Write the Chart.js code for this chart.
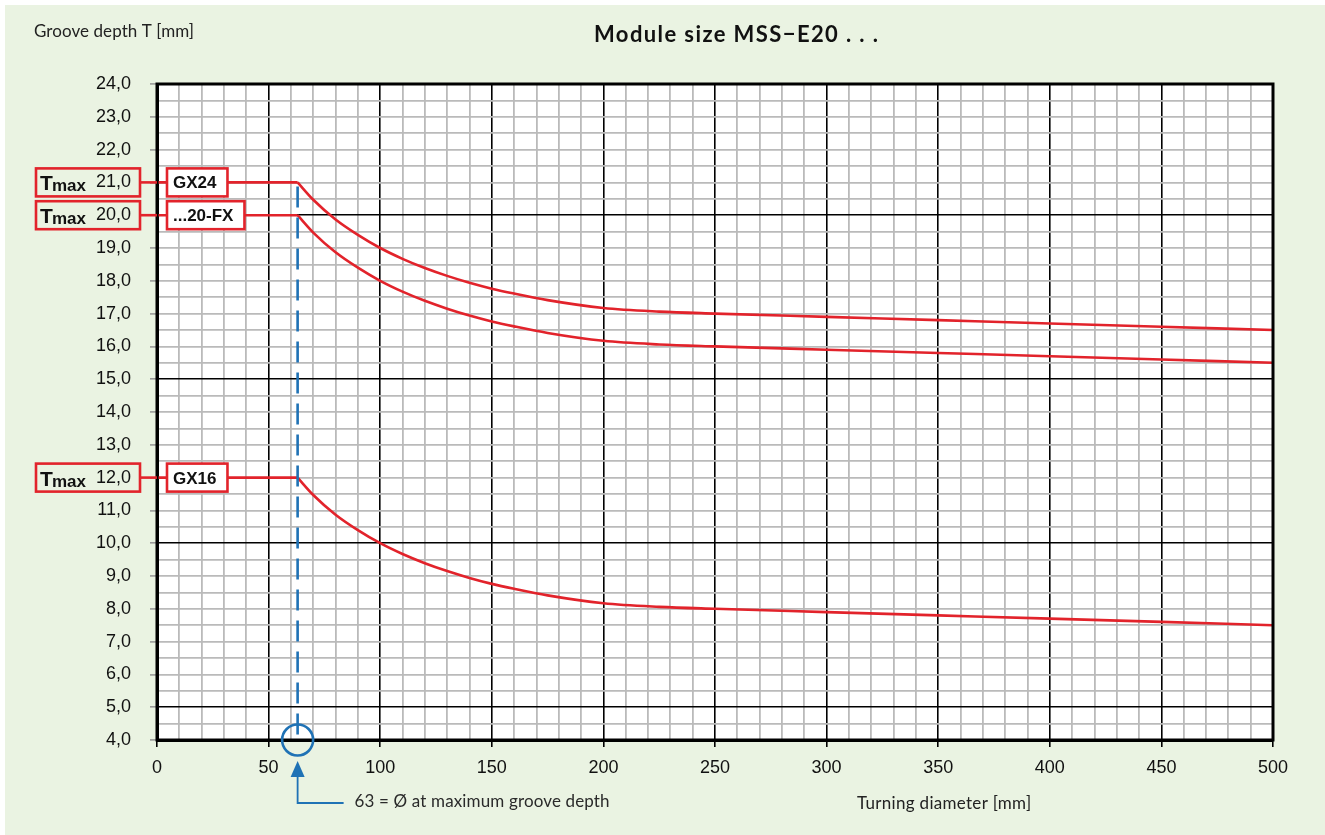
<!DOCTYPE html>
<html>
<head>
<meta charset="utf-8">
<script src="https://cdn.jsdelivr.net/npm/chart.js@4"></script>
<style>
  html, body { margin: 0; padding: 0; background: #ffffff; }
  #wrap { position: absolute; left: 0; top: 0; width: 1325px; height: 835px; }
</style>
</head>
<body>
<div id="wrap"><canvas id="grooveChart" width="1325" height="835"></canvas></div>
<script>
// Turning diameter [mm] for the curve points
const diameters = [63, 70, 80, 90, 100, 110, 120, 130, 140, 150, 160, 175, 200, 225, 250, 300, 350, 400, 450, 500];

// Groove depth T [mm] per insert
const gx24 = [21.0, 20.47, 19.87, 19.4, 19.0, 18.67, 18.39, 18.15, 17.94, 17.76, 17.61, 17.41, 17.17, 17.06, 17.0, 16.9, 16.8, 16.7, 16.6, 16.5];
const fx20 = [20.0, 19.47, 18.87, 18.4, 18.0, 17.67, 17.39, 17.15, 16.94, 16.76, 16.61, 16.41, 16.17, 16.06, 16.0, 15.9, 15.8, 15.7, 15.6, 15.5];
const gx16 = [12.0, 11.47, 10.87, 10.4, 10.0, 9.67, 9.39, 9.15, 8.94, 8.76, 8.61, 8.41, 8.17, 8.06, 8.0, 7.9, 7.8, 7.7, 7.6, 7.5];

// Tmax labels
const insertNames = ['GX24', '...20-FX', 'GX16'];
const tmaxValues = [21.0, 20.0, 12.0];
const diaMax = 63;

const xTicks = [0, 50, 100, 150, 200, 250, 300, 350, 400, 450, 500];

const RED = '#e2232b';
const BLUE = '#1f72b5';
const GRAY = '#bababa';

function curve(ys) {
  return diameters.map((d, i) => ({ x: d, y: ys[i] }));
}
function flat(t) {
  return [{ x: 0, y: t }, { x: diaMax, y: t }];
}

// Text auf eine feste Breite bringen (Schrift ist im Original schmaler)
function fitText(ctx, text, x, y, width) {
  ctx.letterSpacing = '0px';
  const w = ctx.measureText(text).width;
  const extra = (width - w) / Math.max(text.length - 1, 1);
  ctx.letterSpacing = extra.toFixed(2) + 'px';
  ctx.fillText(text, x, y);
  ctx.letterSpacing = '0px';
}

const lineStyle = {
  borderColor: RED,
  borderWidth: 2.6,
  pointRadius: 0,
  fill: false
};

// Zeichnet Rahmen, Beschriftungen und Markierungen
const decorPlugin = {
  id: 'decor',
  beforeDraw(chart) {
    const ctx = chart.ctx;
    ctx.save();
    ctx.fillStyle = '#ffffff';
    ctx.fillRect(0, 0, chart.width, chart.height);
    ctx.fillStyle = '#eaf3e2';
    ctx.fillRect(5, 5, chart.width - 5, chart.height - 5);
    const a = chart.chartArea;
    ctx.fillStyle = '#ffffff';
    ctx.fillRect(a.left, a.top, a.right - a.left, a.bottom - a.top);
    ctx.restore();
  },
  afterDatasetsDraw(chart) {
    const ctx = chart.ctx;
    const a = chart.chartArea;
    const xs = chart.scales.x;
    const ys = chart.scales.y;
    ctx.save();

    // outer frame
    ctx.strokeStyle = '#000';
    ctx.lineWidth = 3;
    ctx.strokeRect(a.left, a.top, a.right - a.left, a.bottom - a.top);

    // blue dashed line at 63
    const px = xs.getPixelForValue(diaMax);
    const pyBottom = ys.getPixelForValue(4);
    ctx.strokeStyle = BLUE;
    ctx.lineWidth = 2.6;
    ctx.setLineDash([21, 10]);
    ctx.beginPath();
    ctx.moveTo(px, ys.getPixelForValue(tmaxValues[0]) + 4);
    ctx.lineTo(px, pyBottom - 4);
    ctx.stroke();
    ctx.setLineDash([]);

    // circle
    ctx.beginPath();
    ctx.arc(px, pyBottom, 15.5, 0, Math.PI * 2);
    ctx.stroke();

    // arrow + note
    ctx.fillStyle = BLUE;
    ctx.beginPath();
    ctx.moveTo(px, pyBottom + 21);
    ctx.lineTo(px - 7, pyBottom + 37);
    ctx.lineTo(px + 7, pyBottom + 37);
    ctx.closePath();
    ctx.fill();
    ctx.lineWidth = 1.8;
    ctx.beginPath();
    ctx.moveTo(px, pyBottom + 36);
    ctx.lineTo(px, pyBottom + 63);
    ctx.lineTo(px + 46, pyBottom + 63);
    ctx.stroke();

    ctx.fillStyle = '#2a2a2a';
    ctx.font = '17px Lato, "Open Sans", sans-serif';
    ctx.textBaseline = 'middle';
    ctx.textAlign = 'left';
    fitText(ctx, '63 = Ø at maximum groove depth', px + 57, pyBottom + 62, 255);

    // insert label boxes
    insertNames.forEach((name, i) => {
      const py = ys.getPixelForValue(tmaxValues[i]);
      ctx.font = 'bold 17px "Liberation Sans", Arial, sans-serif';
      const w = ctx.measureText(name).width + 17;
      const bx = a.left + 10;
      ctx.fillStyle = '#ffffff';
      ctx.fillRect(bx, py - 14, w, 28);
      ctx.strokeStyle = RED;
      ctx.lineWidth = 2.6;
      ctx.strokeRect(bx, py - 14, w, 28);
      ctx.fillStyle = '#111';
      ctx.textAlign = 'left';
      ctx.textBaseline = 'alphabetic';
      ctx.fillText(name, bx + 6, py + 6);

      // Tmax box around tick label
      ctx.strokeRect(36, py - 14, 104, 28);
      ctx.font = 'bold 21px "Liberation Sans", Arial, sans-serif';
      ctx.fillText('T', 40, py + 8);
      ctx.font = 'bold 17px "Liberation Sans", Arial, sans-serif';
      ctx.fillText('max', 52, py + 9);

      // red connector to axis
      ctx.beginPath();
      ctx.moveTo(141, py);
      ctx.lineTo(a.left, py);
      ctx.stroke();
    });

    // titles
    ctx.textBaseline = 'middle';
    ctx.fillStyle = '#222';
    ctx.textAlign = 'left';
    ctx.font = '17px Lato, "Open Sans", sans-serif';
    fitText(ctx, 'Groove depth T [mm]', 34, 32, 160);
    fitText(ctx, 'Turning diameter [mm]', 857, 804, 174);
    ctx.fillStyle = '#111';
    ctx.font = 'bold 22px Lato, "Open Sans", sans-serif';
    fitText(ctx, 'Module size MSS\u2212E20 . . .', 594, 35, 284);
    ctx.restore();
  }
};

const ctx = document.getElementById('grooveChart').getContext('2d');

const grooveChart = new Chart(ctx, {
  type: 'line',
  data: {
    datasets: [
      { label: 'GX24', data: curve(gx24), cubicInterpolationMode: 'monotone', ...lineStyle },
      { label: '...20-FX', data: curve(fx20), cubicInterpolationMode: 'monotone', ...lineStyle },
      { label: 'GX16', data: curve(gx16), cubicInterpolationMode: 'monotone', ...lineStyle },
      { label: 'GX24 max', data: flat(tmaxValues[0]), tension: 0, ...lineStyle },
      { label: '20-FX max', data: flat(tmaxValues[1]), tension: 0, ...lineStyle },
      { label: 'GX16 max', data: flat(tmaxValues[2]), tension: 0, ...lineStyle }
    ]
  },
  options: {
    responsive: false,
    animation: false,
    layout: { padding: { top: 84, right: 52, left: 0, bottom: 0 } },
    plugins: {
      legend: { display: false },
      title: { display: false },
      tooltip: { enabled: false }
    },
    scales: {
      x: {
        type: 'linear',
        min: 0,
        max: 500,
        afterFit: (s) => { s.height = 95; },
        afterBuildTicks: (s) => {
          const t = [];
          for (let v = 0; v <= 500; v += 10) t.push({ value: v });
          s.ticks = t;
        },
        ticks: {
          autoSkip: false,
          maxRotation: 0,
          padding: 10,
          color: '#111',
          font: { family: '"Liberation Sans", Arial, sans-serif', size: 18 },
          callback: (v) => (xTicks.includes(v) ? String(v) : '')
        },
        grid: {
          drawOnChartArea: true,
          tickLength: 7,
          color: (c) => (c.tick && c.tick.value % 50 === 0 ? '#000' : GRAY),
          lineWidth: (c) => (c.tick && c.tick.value % 50 === 0 ? 1.6 : 1.8),
          tickColor: (c) => (c.tick && c.tick.value % 50 === 0 ? '#000' : 'rgba(0,0,0,0)'),
          tickWidth: 1.6
        },
        border: { color: '#000', width: 3 }
      },
      y: {
        type: 'linear',
        min: 4,
        max: 24,
        afterFit: (s) => { s.width = 157; },
        afterBuildTicks: (s) => {
          const t = [];
          for (let v = 4; v <= 24.001; v += 0.5) t.push({ value: Math.round(v * 2) / 2 });
          s.ticks = t;
        },
        ticks: {
          autoSkip: false,
          padding: 19,
          color: '#111',
          font: { family: '"Liberation Sans", Arial, sans-serif', size: 18 },
          callback: (v) => (Number.isInteger(v) ? v.toFixed(1).replace('.', ',') : '')
        },
        grid: {
          tickLength: 7,
          color: (c) => (c.tick && c.tick.value % 5 === 0 ? '#000' : GRAY),
          lineWidth: (c) => (c.tick && c.tick.value % 5 === 0 ? 1.6 : 1.8),
          tickColor: (c) => (c.tick && Number.isInteger(c.tick.value) ? '#999' : 'rgba(0,0,0,0)'),
          tickWidth: 1.6
        },
        border: { color: '#000', width: 3 }
      }
    }
  },
  plugins: [decorPlugin]
});
</script>
</body>
</html>
